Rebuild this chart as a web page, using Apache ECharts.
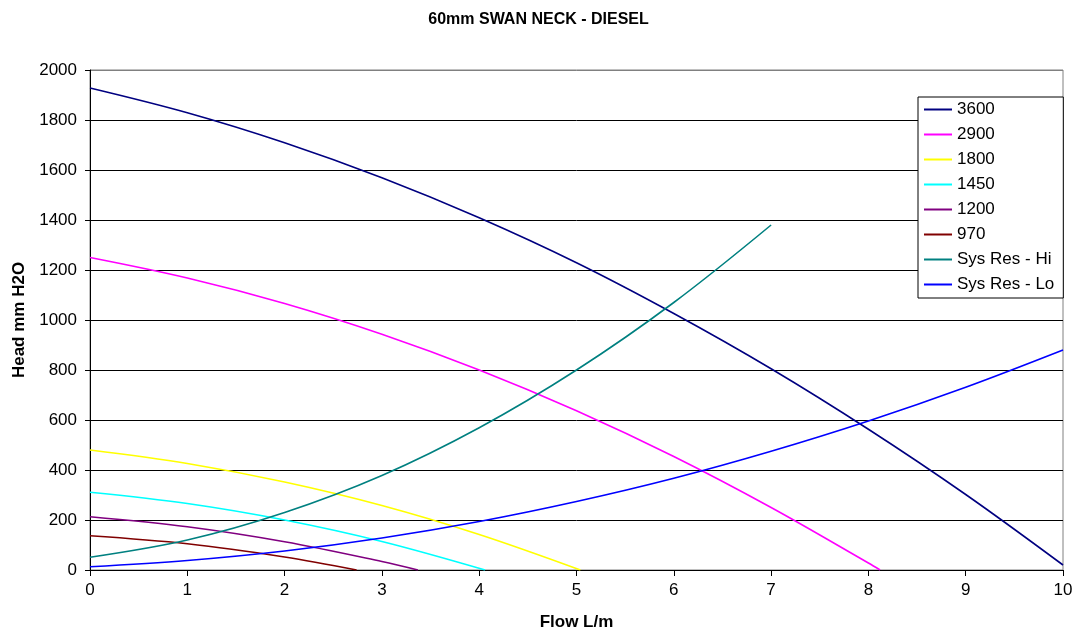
<!DOCTYPE html>
<html>
<head>
<meta charset="utf-8">
<script src="https://cdn.jsdelivr.net/npm/echarts@6/dist/echarts.min.js"></script>
<style>
html,body{margin:0;padding:0;background:#fff;}
#chart{width:1077px;height:639px;}
</style>
</head>
<body>
<div id="chart"></div>
<script>
const xTicks = [0,1,2,3,4,5,6,7,8,9,10];
const yTicks = [0,200,400,600,800,1000,1200,1400,1600,1800,2000];

const flow3600 = [0,1,2,3,4,5,6,7,8,9,10];
const head3600 = [1928,1829,1709,1569,1409,1229,1026,805,563,302,20];

const flow2900 = [0,1,2,3,4,5,6,7,8,8.12];
const head2900 = [1250,1168,1066,943,800,637,454,250,28,0];

const flow1800 = [0,1,2,3,4,5.04];
const head1800 = [480,426,352,258,142,0];

const flow1450 = [0,1,2,3,4.06];
const head1450 = [311,266,200,114,0];

const flow1200 = [0,1,2,3,3.37];
const head1200 = [213,173,113,34,0];

const flow970 = [0,1,2,2.74];
const head970 = [137,105,52,0];

const flowSysHi = [0,1,2,3,4,5,6,7];
const headSysHi = [51,120,230,378,569,800,1070,1380];

const flowSysLo = [0,1,2,3,4,5,6,7,8,9,10];
const headSysLo = [13,38,76,128,194,274,367,475,596,731,880];

const seriesNames = ['3600','2900','1800','1450','1200','970','Sys Res - Hi','Sys Res - Lo'];
const seriesColors = ['#000080','#FF00FF','#FFFF00','#00FFFF','#800080','#800000','#008080','#0000FF'];
const seriesFlows = [flow3600,flow2900,flow1800,flow1450,flow1200,flow970,flowSysHi,flowSysLo];
const seriesHeads = [head3600,head2900,head1800,head1450,head1200,head970,headSysHi,headSysLo];

const font = 'Liberation Sans, Arial, sans-serif';

const series = seriesNames.map((name, i) => ({
  name: name,
  type: 'line',
  smooth: 0.35,
  symbol: 'none',
  color: seriesColors[i],
  lineStyle: {width: 1.6, color: seriesColors[i]},
  data: seriesFlows[i].map((x, j) => [x, seriesHeads[i][j]]),
  z: 3
}));

const gridLineColors = yTicks.map(v => v === 2000 ? '#808080' : '#000');

const chart = echarts.init(document.getElementById('chart'), null, {renderer: 'canvas'});
chart.setOption({
  animation: false,
  backgroundColor: '#ffffff',
  title: {
    text: '60mm SWAN NECK - DIESEL',
    left: 'center',
    top: 7,
    textStyle: {fontFamily: font, fontSize: 16, fontWeight: 'bold', color: '#000'}
  },
  grid: {
    left: 90, right: 14, top: 70, bottom: 69,
    show: true, borderColor: '#808080', borderWidth: 1, backgroundColor: '#fff'
  },
  legend: {
    orient: 'vertical',
    left: 918,
    top: 97,
    data: seriesNames,
    itemWidth: 28,
    itemHeight: 17,
    itemGap: 8,
    padding: [4, 9, 5, 5],
    borderColor: '#000',
    borderWidth: 1,
    backgroundColor: '#fff',
    itemStyle: {opacity: 0},
    lineStyle: {width: 2},
    textStyle: {fontFamily: font, fontSize: 17, color: '#000', lineHeight: 17}
  },
  xAxis: {
    type: 'value',
    min: 0, max: 10, interval: 1,
    name: 'Flow L/m',
    nameLocation: 'middle',
    nameGap: 44,
    nameTextStyle: {fontFamily: font, fontSize: 17, fontWeight: 'bold', color: '#000'},
    axisLine: {show: true, onZero: false, lineStyle: {color: '#000', width: 1}},
    axisTick: {show: true, inside: false, length: 6, lineStyle: {color: '#000'}},
    axisLabel: {fontFamily: font, fontSize: 17, color: '#000', margin: 12,
      formatter: v => xTicks.includes(v) ? String(v) : ''},
    splitLine: {show: false}
  },
  yAxis: {
    type: 'value',
    min: 0, max: 2000, interval: 200,
    name: 'Head mm H2O',
    nameLocation: 'middle',
    nameGap: 62,
    nameTextStyle: {fontFamily: font, fontSize: 17, fontWeight: 'bold', color: '#000'},
    axisLine: {show: true, onZero: false, lineStyle: {color: '#000', width: 1}},
    axisTick: {show: true, inside: false, length: 5, lineStyle: {color: '#000'}},
    axisLabel: {fontFamily: font, fontSize: 17, color: '#000', margin: 13,
      formatter: v => yTicks.includes(v) ? String(v) : ''},
    splitLine: {show: true, lineStyle: {color: gridLineColors, width: 1}}
  },
  series: series
});
</script>
</body>
</html>
